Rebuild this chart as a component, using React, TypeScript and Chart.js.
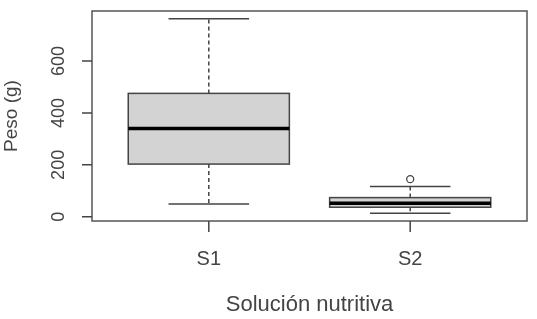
import React, { useEffect, useRef } from "react";
import { Chart, registerables } from "chart.js";

Chart.register(...registerables);

const categories = ["S1", "S2"];
const lowerWhisker = [49, 14];
const q1 = [203, 37];
const median = [340, 52];
const q3 = [475, 74];
const upperWhisker = [762, 117];
const outliersS2 = [145];
const yTicks = [0, 200, 400, 600];
const xTitle = "Solución nutritiva";
const yTitle = "Peso (g)";

const INK = "#444444";
const FONT = "'Liberation Sans', Arial, sans-serif";

const boxPlugin = {
  id: "rbox",
  beforeDatasetsDraw(chart: any) {
    const { ctx, chartArea: a, scales } = chart;
    const xs = scales.x;
    const ys = scales.y;
    ctx.save();
    // boxes
    categories.forEach((_c, i) => {
      const xc = xs.getPixelForValue(i + 1);
      const half = xs.getPixelForValue(i + 1.4) - xc;
      const capHalf = xs.getPixelForValue(i + 1.2) - xc;
      const yq1 = ys.getPixelForValue(q1[i]);
      const yq3 = ys.getPixelForValue(q3[i]);
      const ymed = ys.getPixelForValue(median[i]);
      const ylo = ys.getPixelForValue(lowerWhisker[i]);
      const yhi = ys.getPixelForValue(upperWhisker[i]);
      // whiskers dashed
      ctx.strokeStyle = INK;
      ctx.lineWidth = 1.5;
      ctx.setLineDash([4, 3]);
      ctx.beginPath();
      ctx.moveTo(xc, yq3);
      ctx.lineTo(xc, yhi);
      ctx.moveTo(xc, yq1);
      ctx.lineTo(xc, ylo);
      ctx.stroke();
      ctx.setLineDash([]);
      // caps
      ctx.beginPath();
      ctx.moveTo(xc - capHalf, yhi);
      ctx.lineTo(xc + capHalf, yhi);
      ctx.moveTo(xc - capHalf, ylo);
      ctx.lineTo(xc + capHalf, ylo);
      ctx.stroke();
      // box
      ctx.fillStyle = "#d3d3d3";
      ctx.fillRect(xc - half, yq3, 2 * half, yq1 - yq3);
      ctx.strokeRect(xc - half, yq3, 2 * half, yq1 - yq3);
      // median
      ctx.strokeStyle = "#000000";
      ctx.lineWidth = 3.5;
      ctx.beginPath();
      ctx.moveTo(xc - half, ymed);
      ctx.lineTo(xc + half, ymed);
      ctx.stroke();
    });
    // frame
    ctx.strokeStyle = "#555555";
    ctx.lineWidth = 1.5;
    ctx.strokeRect(a.left, a.top, a.right - a.left, a.bottom - a.top);
    // y ticks
    ctx.strokeStyle = INK;
    ctx.fillStyle = INK;
    ctx.beginPath();
    yTicks.forEach((t) => {
      const y = ys.getPixelForValue(t);
      ctx.moveTo(a.left - 10, y);
      ctx.lineTo(a.left, y);
    });
    ctx.stroke();
    ctx.font = `18px ${FONT}`;
    ctx.textAlign = "center";
    ctx.textBaseline = "alphabetic";
    yTicks.forEach((t) => {
      const y = ys.getPixelForValue(t);
      ctx.save();
      ctx.translate(a.left - 28, y);
      ctx.rotate(-Math.PI / 2);
      ctx.fillText(String(t), 0, 0);
      ctx.restore();
    });
    // x ticks
    ctx.beginPath();
    categories.forEach((_c, i) => {
      const x = xs.getPixelForValue(i + 1);
      ctx.moveTo(x, a.bottom);
      ctx.lineTo(x, a.bottom + 11);
    });
    ctx.stroke();
    ctx.font = `20px ${FONT}`;
    categories.forEach((c, i) => {
      const x = xs.getPixelForValue(i + 1);
      ctx.fillText(c, x, 265);
    });
    // titles
    ctx.font = `22px ${FONT}`;
    ctx.fillText(xTitle, (a.left + a.right) / 2 + 0, 311);
    ctx.font = `19px ${FONT}`;
    ctx.save();
    ctx.translate(17, (a.top + a.bottom) / 2);
    ctx.rotate(-Math.PI / 2);
    ctx.fillText(yTitle, 0, 0);
    ctx.restore();
    ctx.restore();
  },
};

export default function App() {
  const ref = useRef<HTMLCanvasElement>(null);
  useEffect(() => {
    if (!ref.current) return;
    const chart = new Chart(ref.current, {
      type: "scatter",
      data: {
        datasets: [
          {
            data: outliersS2.map((v) => ({ x: 2, y: v })),
            pointStyle: "circle",
            pointRadius: 3.5,
            pointBackgroundColor: "#ffffff",
            pointBorderColor: INK,
            pointBorderWidth: 1.3,
          },
        ],
      },
      options: {
        responsive: false,
        animation: false,
        layout: { padding: { left: 92, top: 11, right: 10, bottom: 98 } },
        plugins: { legend: { display: false }, tooltip: { enabled: false } },
        scales: {
          x: { type: "linear", min: 0.42, max: 2.58, display: false },
          y: { type: "linear", min: -16, max: 792, display: false },
        },
      },
      plugins: [boxPlugin],
    });
    return () => chart.destroy();
  }, []);
  return (
    <div style={{ position: "absolute", left: 0, top: 0, width: 537, height: 319, background: "#fff" }}>
      <canvas ref={ref} width={537} height={319} style={{ display: "block" }} />
    </div>
  );
}
